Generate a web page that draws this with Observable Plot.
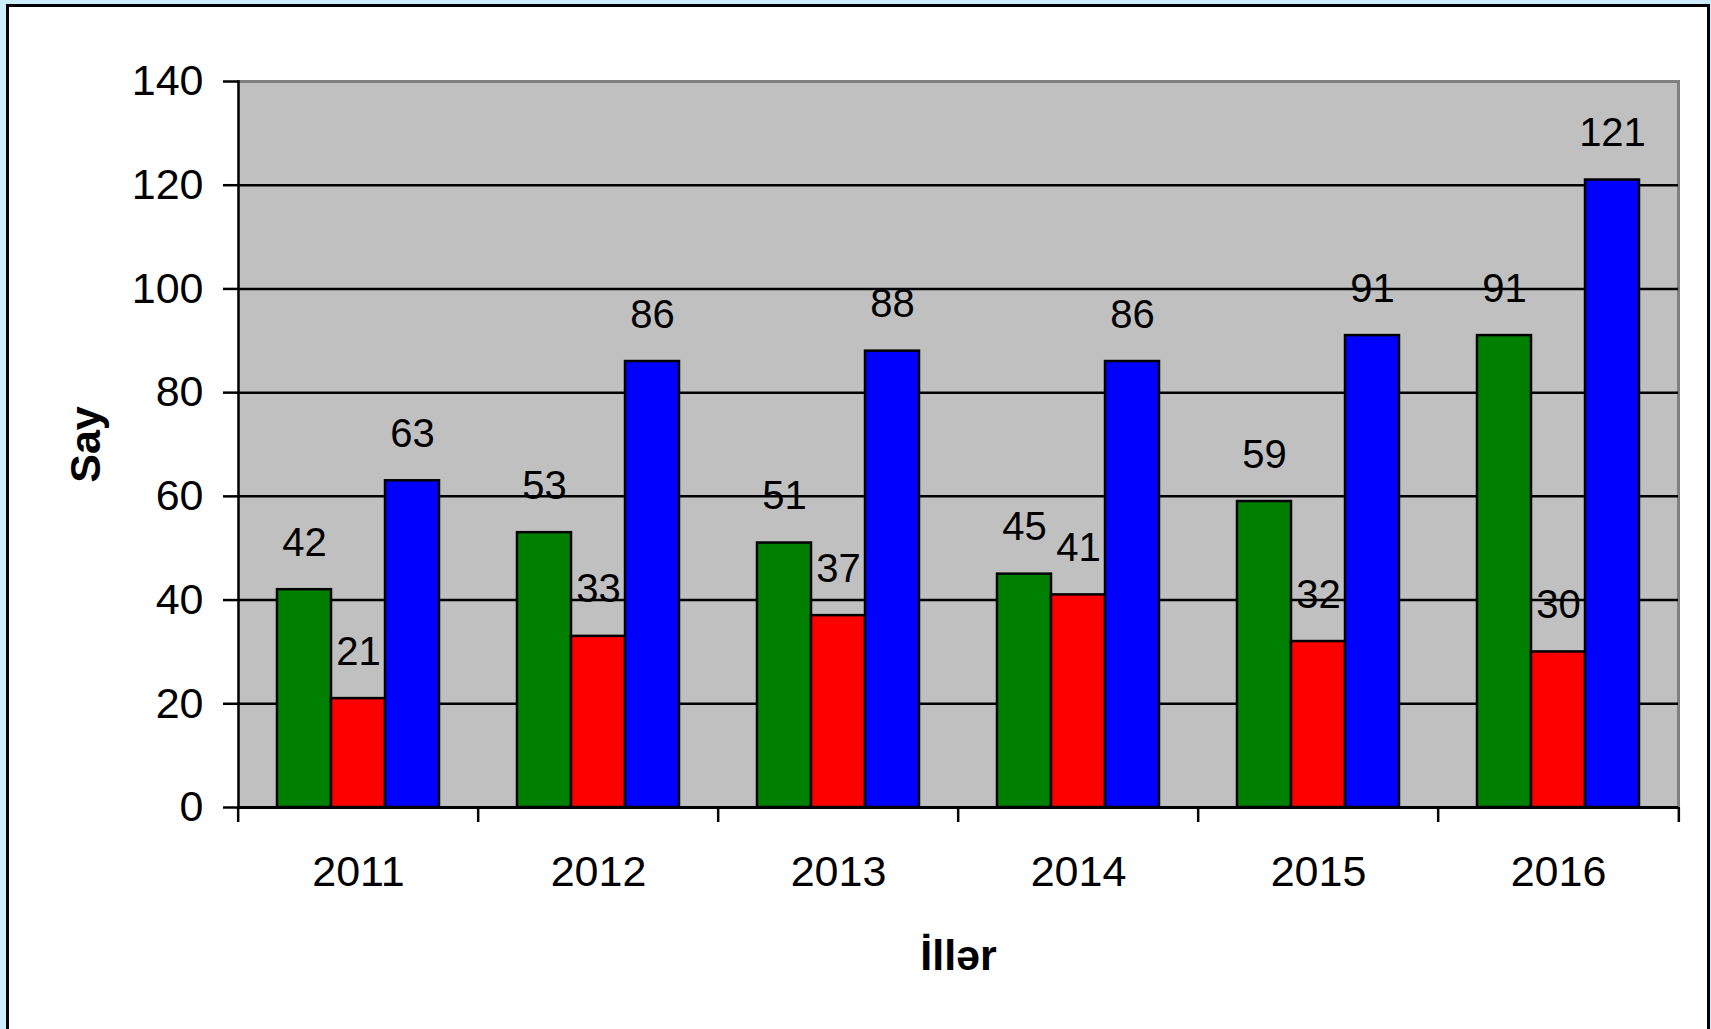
<!DOCTYPE html>
<html>
<head>
<meta charset="utf-8">
<script src="https://cdn.jsdelivr.net/npm/d3@7"></script>
<script src="https://cdn.jsdelivr.net/npm/@observablehq/plot@0.6"></script>
<style>
  html, body { margin: 0; padding: 0; background: #ccecff; overflow: hidden; }
  #box { position: absolute; left: 6px; top: 4px; width: 1704px; height: 1100px; border: 3px solid #000; background: #fff; box-sizing: border-box; }
  #chart { position: absolute; left: 0; top: 0; }
  #chart svg [aria-label="y-axis label"], #chart svg [aria-label="fx-axis label"] { font-weight: bold; }
</style>
</head>
<body>
<div id="box"></div>
<div id="chart"></div>
<script>
const years = ["2011", "2012", "2013", "2014", "2015", "2016"];
const seriesNames = ["Seriya 1", "Seriya 2", "Seriya 3"];
const seriesColors = ["#008000", "#ff0000", "#0000ff"];
const greenValues = [42, 53, 51, 45, 59, 91];
const redValues = [21, 33, 37, 41, 32, 30];
const blueValues = [63, 86, 88, 86, 91, 121];
const yTicks = [0, 20, 40, 60, 80, 100, 120, 140];

const seriesValues = [greenValues, redValues, blueValues];
const data = [];
years.forEach((year, i) => {
  seriesNames.forEach((s, j) => data.push({year, series: s, value: seriesValues[j][i]}));
});

const W = 1711, H = 1029;
const mL = 236, mR = 31, mT = 81, mB = 222;
const step = (W - mL - mR) / years.length;

const plot = Plot.plot({
  width: W, height: H,
  marginLeft: mL, marginRight: mR, marginTop: mT, marginBottom: mB,
  style: {background: "transparent", fontFamily: "'Liberation Sans', Arial, sans-serif", fontSize: "40px", color: "black", overflow: "visible"},
  fx: {domain: years, padding: 0, label: null},
  x: {domain: seriesNames, paddingInner: 0, paddingOuter: 0.72, axis: null},
  y: {domain: [0, 140]},
  color: {domain: seriesNames, range: seriesColors},
  marks: [
    Plot.frame({fill: "#c0c0c0", stroke: "#c0c0c0", strokeWidth: 1.5}),
    Plot.frame({anchor: "top", stroke: "#808080", strokeWidth: 3}),
    Plot.frame({anchor: "right", stroke: "#808080", strokeWidth: 3, facetAnchor: "right"}),
    Plot.gridY({ticks: yTicks.slice(1, -1), stroke: "black", strokeOpacity: 1, strokeWidth: 2.5}),
    Plot.barY(data, {fx: "year", x: "series", y: "value", fill: "series", stroke: "black", strokeWidth: 2.5}),
    Plot.text(data, {fx: "year", x: "series", y: "value", text: d => String(d.value), lineAnchor: "bottom", dy: -34, fontSize: 40, fill: "black"}),
    Plot.ruleY([0], {stroke: "black", strokeWidth: 3}),
    Plot.frame({anchor: "left", stroke: "black", strokeWidth: 2.5, facetAnchor: "left"}),
    Plot.axisY({ticks: yTicks, tickSize: 15, tickPadding: 20, strokeWidth: 2.5, fontSize: 43, label: "Say", labelArrow: "none", labelAnchor: "center", labelOffset: 169}),
    Plot.axisFx({anchor: "bottom", tickSize: 0, tickPadding: 48, fontSize: 43, label: "İllər", labelArrow: "none", labelAnchor: "center", labelOffset: 162}),
    Plot.axisFx({anchor: "bottom", tickSize: 15, tickFormat: () => "", dx: -step / 2, strokeWidth: 2.5, label: null}),
    Plot.axisFx({anchor: "bottom", ticks: ["2016"], tickSize: 15, tickFormat: () => "", dx: step / 2, strokeWidth: 2.5, label: null})
  ]
});
document.getElementById("chart").appendChild(plot);
</script>
</body>
</html>
